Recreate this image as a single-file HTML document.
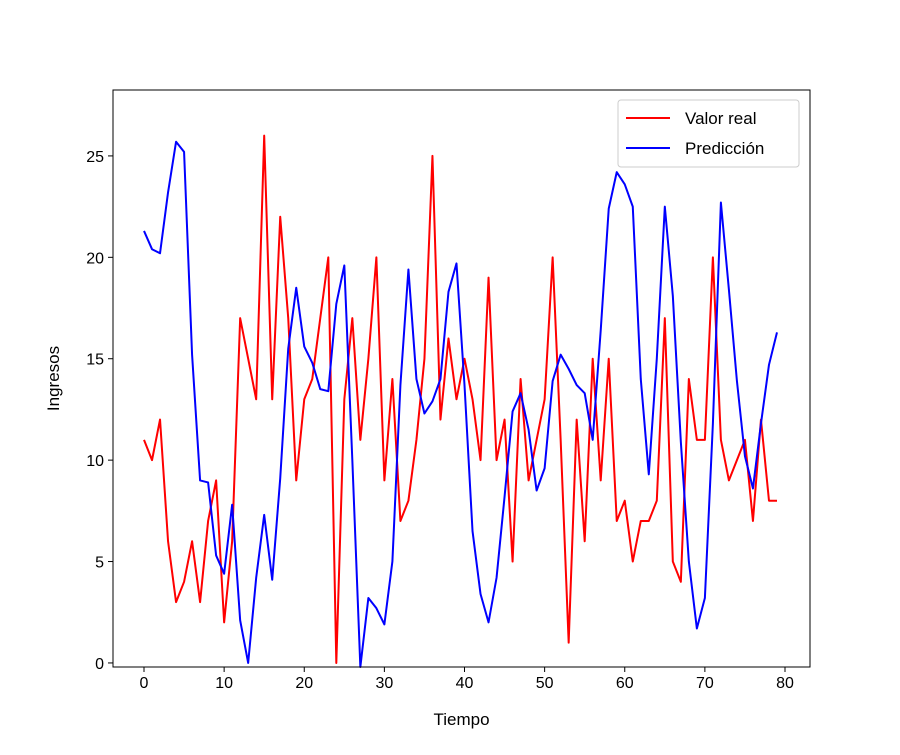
<!DOCTYPE html>
<html><head><meta charset="utf-8"><style>
body{margin:0;background:#fff;}
svg text{font-family:"Liberation Sans","DejaVu Sans",sans-serif;fill:#000;}
</style></head><body>
<svg id="chart" width="900" height="750" xmlns="http://www.w3.org/2000/svg">
<rect width="900" height="750" fill="#fff"/>
<g id="plot"></g>
</svg>
<script>
const xTicks=[0,10,20,30,40,50,60,70,80];
const yTicks=[0,5,10,15,20,25];
const realValues=[11,10,12,6,3,4,6,3,7,9,2,6,17,15,13,26,13,22,17,9,13,14,17,20,0,13,17,11,15,20,9,14,7,8,11,15,25,12,16,13,15,13,10,19,10,12,5,14,9,11,13,20,11,1,12,6,15,9,15,7,8,5,7,7,8,17,5,4,14,11,11,20,11,9,10,11,7,12,8,8];
const predValues=[21.3,20.4,20.2,23.2,25.7,25.2,15.2,9.0,8.9,5.3,4.4,7.8,2.1,0,4.2,7.3,4.1,9.1,15.5,18.5,15.6,14.8,13.5,13.4,17.7,19.6,10,-0.2,3.2,2.7,1.9,5,13.7,19.4,14,12.3,12.9,14,18.3,19.7,13.7,6.5,3.4,2,4.2,8.2,12.4,13.3,11.5,8.5,9.6,13.9,15.2,14.5,13.7,13.3,11,16.4,22.4,24.2,23.6,22.5,14,9.3,15,22.5,18.1,10.9,5,1.7,3.2,11.8,22.7,18.4,13.9,10.2,8.6,11.8,14.7,16.3];
const L=113,R=810,T=90,B=667;
const xMin=-3.87,xMax=83.12,yMin=-0.2,yMax=28.25;
const sx=v=>L+(v-xMin)/(xMax-xMin)*(R-L);
const sy=v=>B-(v-yMin)/(yMax-yMin)*(B-T);
const NS='http://www.w3.org/2000/svg';
const g=document.getElementById('plot');
function mk(tag,attrs,parent){const e=document.createElementNS(NS,tag);for(const k in attrs)e.setAttribute(k,attrs[k]);(parent||g).appendChild(e);return e;}
function series(vals,color,name){
  const d=vals.map((v,i)=>(i?'L':'M')+sx(i).toFixed(2)+','+sy(v).toFixed(2)).join('');
  const p=mk('path',{d:d,fill:'none',stroke:color,'stroke-width':2,'stroke-linejoin':'round'});
  
  
}
series(realValues,'#ff0000','real-value-line');
series(predValues,'#0000ff','prediction-line');
const frame=mk('rect',{x:L,y:T,width:R-L,height:B-T,fill:'none',stroke:'#000','stroke-width':1});


xTicks.forEach(t=>{
  const x=sx(t);
  mk('line',{x1:x,x2:x,y1:B,y2:B+5,stroke:'#000'});
  const tx=mk('text',{x:x,y:B+21,'text-anchor':'middle','font-size':16});
  tx.textContent=t;
  
  
});
yTicks.forEach(t=>{
  const y=sy(t);
  mk('line',{x1:L-5,x2:L,y1:y,y2:y,stroke:'#000'});
  const tx=mk('text',{x:L-9,y:y+6,'text-anchor':'end','font-size':16});
  tx.textContent=t;
  
  
});
const xt=mk('text',{x:(L+R)/2,y:725,'text-anchor':'middle','font-size':17});
xt.textContent='Tiempo';


const yt=mk('text',{x:0,y:0,'text-anchor':'middle','font-size':17,transform:'translate(59,'+((T+B)/2)+') rotate(-90)'});
yt.textContent='Ingresos';


const lg=mk('g',{});


mk('rect',{x:618,y:100,width:181,height:67,rx:3,fill:'#fff','fill-opacity':0.8,stroke:'#ccc'},lg);
mk('line',{x1:626,x2:670,y1:118,y2:118,stroke:'#ff0000','stroke-width':2},lg);
mk('line',{x1:626,x2:670,y1:148,y2:148,stroke:'#0000ff','stroke-width':2},lg);
const l1=mk('text',{x:685,y:124,'font-size':17},lg);l1.textContent='Valor real';


const l2=mk('text',{x:685,y:154,'font-size':17},lg);l2.textContent='Predicción';


</script>
</body></html>
